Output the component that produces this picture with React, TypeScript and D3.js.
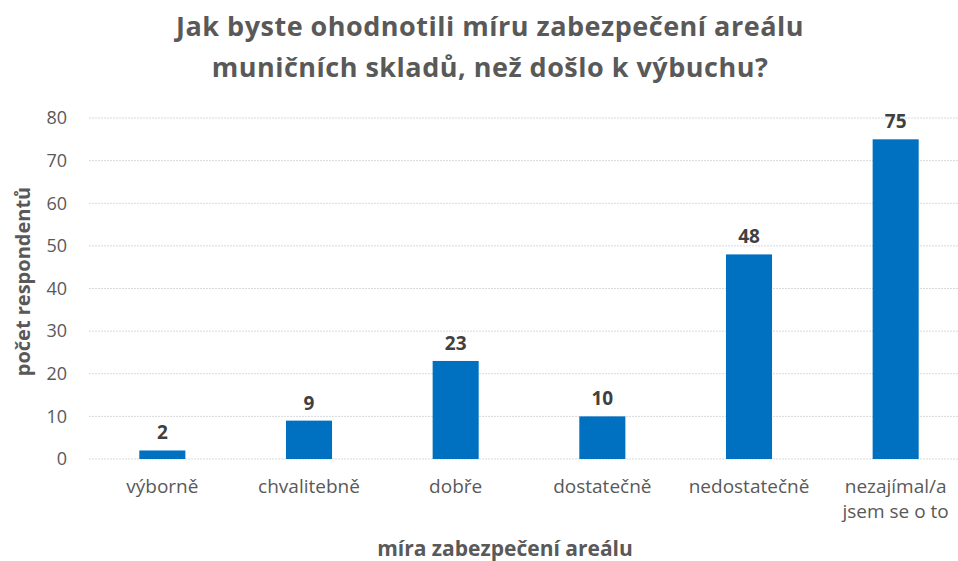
import React from 'react';
import * as d3 from 'd3';

const width = 958;
const height = 561;
const margin = { top: 118, right: -11, bottom: 102, left: 89 };
const barColor = '#0070c0';
const textGray = '#595959';

const categories = ['výborně', 'chvalitebně', 'dobře', 'dostatečně', 'nedostatečně', 'nezajímal/a jsem se o to'];
const categoryLines = [['výborně'], ['chvalitebně'], ['dobře'], ['dostatečně'], ['nedostatečně'], ['nezajímal/a', 'jsem se o to']];
const counts = [2, 9, 23, 10, 48, 75];
const yTicks = [0, 10, 20, 30, 40, 50, 60, 70, 80];
const titleLines = ['Jak byste ohodnotili míru zabezpečení areálu', 'muničních skladů, než došlo k výbuchu?'];

const font = '"Open Sans", sans-serif';

export default function App() {
  const xScale = d3.scaleBand()
    .domain(categories)
    .range([margin.left, width - margin.right])
    .paddingInner(0.686)
    .paddingOuter(0.343);
  const yScale = d3.scaleLinear().domain([0, 80]).range([height - margin.bottom, margin.top]);

  return (
    <svg width={width} height={height} style={{ position: 'absolute', left: 0, top: 0, background: '#fff' }} fontFamily={font}>
      {titleLines.map((t, i) => (
        <text key={i} x={490} y={36 + i * 41} textAnchor="middle" fontSize={27} letterSpacing={0.5} fontWeight="bold" fill={textGray}>{t}</text>
      ))}
      {yTicks.map(t => (
        <g key={t}>
          <line x1={margin.left} x2={width} y1={yScale(t)} y2={yScale(t)} stroke="#d9d9d9" strokeWidth={1} strokeDasharray="2,1" />
          <text x={67} y={yScale(t)} dy="0.35em" textAnchor="end" fontSize={18} fill={textGray}>{t}</text>
        </g>
      ))}
      {categories.map((c, i) => {
        const x = xScale(c)!;
        const cx = x + xScale.bandwidth() / 2;
        return (
          <g key={c}>
            <rect x={x} y={yScale(counts[i])} width={xScale.bandwidth()} height={yScale(0) - yScale(counts[i])} fill={barColor} />
            <text x={cx} y={yScale(counts[i]) - 11} textAnchor="middle" fontSize={19} fontWeight="bold" fill="#404040">{counts[i]}</text>
            {categoryLines[i].map((l, j) => (
              <text key={j} x={cx} y={493 + j * 25} textAnchor="middle" fontSize={19} fill={textGray}>{l}</text>
            ))}
          </g>
        );
      })}
      <text transform={`translate(30, ${(yScale(0) + yScale(80)) / 2 - 7}) rotate(-90)`} textAnchor="middle" fontSize={20} fontWeight="bold" fill={textGray}>počet respondentů</text>
      <text x={505} y={556} textAnchor="middle" fontSize={21} fontWeight="bold" fill={textGray}>míra zabezpečení areálu</text>
    </svg>
  );
}
